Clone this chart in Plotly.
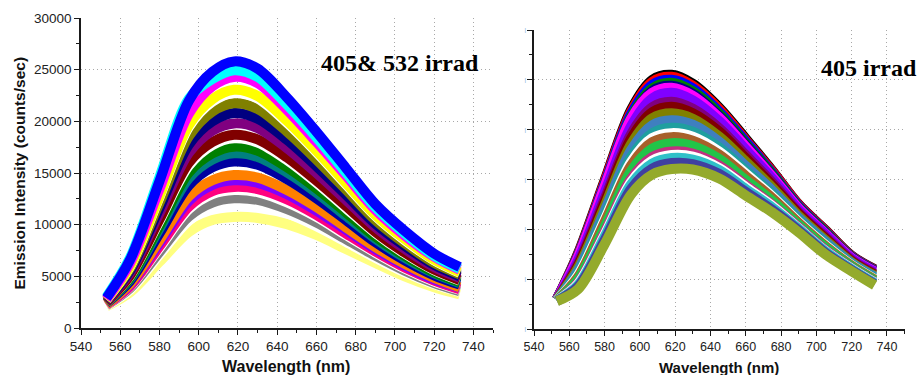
import plotly.graph_objects as go

# ---------------- data ----------------
wavelength = [553, 565, 580, 595, 607, 618, 630, 645, 660, 675, 690, 705, 720, 733]

# Left panel: "405& 532 irrad" (listed top curve -> bottom curve)
left_colors = ["#0000ff", "#00ffff", "#ff00ff", "#ffff00", "#ffffff", "#808000", "#000080",
               "#800080", "#800000", "#ffffff", "#008000", "#008080", "#0000a0", "#ff8000",
               "#8000ff", "#ff0080", "#ffffff", "#808080", "#ffffff", "#ffff80"]
left_series = [
    [2900, 6600, 14200, 22000, 24800, 25800, 25100, 22300, 19000, 15500, 12000, 9400, 7200, 5900],
    [3000, 6800, 14600, 22200, 24100, 24950, 24300, 21600, 18450, 15050, 11700, 9150, 7000, 5750],
    [2800, 6300, 13450, 20750, 23400, 24300, 23700, 21100, 18000, 14750, 11450, 8950, 6900, 5650],
    [2750, 6000, 12750, 19650, 22150, 23050, 22450, 20050, 17150, 14050, 10950, 8600, 6600, 5400],
    [2750, 5950, 12650, 19450, 21900, 22750, 22200, 19850, 17000, 13900, 10850, 8500, 6550, 5350],
    [2700, 5750, 12100, 18550, 20950, 21750, 21200, 19000, 16300, 13400, 10450, 8200, 6300, 5200],
    [2650, 5550, 11600, 17750, 20000, 20800, 20250, 18200, 15650, 12900, 10100, 7950, 6100, 5000],
    [2600, 5350, 11100, 16950, 19100, 19800, 19350, 17400, 15000, 12400, 9750, 7650, 5900, 4850],
    [2500, 5100, 10500, 16000, 18000, 18700, 18250, 16500, 14250, 11800, 9300, 7300, 5650, 4650],
    [2500, 5050, 10350, 15700, 17700, 18350, 17950, 16250, 14050, 11600, 9200, 7200, 5600, 4600],
    [2450, 4850, 9900, 15050, 16900, 17550, 17150, 15550, 13500, 11200, 8850, 7000, 5400, 4450],
    [2450, 4750, 9600, 14500, 16300, 16900, 16550, 15050, 13100, 10850, 8650, 6800, 5300, 4350],
    [2400, 4550, 9150, 13800, 15550, 16100, 15800, 14400, 12550, 10450, 8300, 6550, 5100, 4200],
    [2300, 4300, 8500, 12750, 14300, 14800, 14550, 13350, 11700, 9750, 7850, 6200, 4850, 3950],
    [2300, 4200, 8250, 12300, 13850, 14300, 14050, 12950, 11350, 9500, 7650, 6050, 4700, 3900],
    [2250, 4050, 7900, 11750, 13250, 13650, 13450, 12450, 10950, 9150, 7400, 5850, 4600, 3750],
    [2250, 4000, 7750, 11500, 12950, 13350, 13150, 12150, 10750, 9000, 7300, 5750, 4500, 3700],
    [2200, 3850, 7350, 10800, 12150, 12550, 12400, 11500, 10200, 8600, 7000, 5550, 4350, 3550],
    [2150, 3700, 7100, 10400, 11700, 12050, 11900, 11100, 9850, 8350, 6800, 5400, 4250, 3500],
    [2100, 3450, 6400, 9300, 10450, 10750, 10650, 10050, 9000, 7650, 6300, 5000, 3950, 3250],
]

# Right panel: "405 irrad" (listed top curve -> bottom curve)
right_colors = ["#000000", "#ff0000", "#0000ff", "#008000", "#000080", "#ff00ff", "#8000ff",
                "#800080", "#800000", "#808000", "#3f7fbf", "#1f9f9f", "#ffffff", "#a8602a",
                "#22c448", "#c03080", "#ffffff", "#30c0c8", "#4040a0", "#94aa2c"]
right_series = [
    [3000, 7600, 14900, 22000, 25000, 25500, 24600, 22200, 19100, 15900, 12500, 9950, 7350, 6000],
    [3000, 7500, 14750, 21800, 24800, 25300, 24400, 22050, 18950, 15800, 12450, 9900, 7300, 5950],
    [3000, 7400, 14550, 21550, 24500, 25000, 24150, 21800, 18800, 15650, 12350, 9800, 7250, 5900],
    [2980, 7300, 14350, 21250, 24150, 24700, 23850, 21600, 18600, 15550, 12250, 9750, 7200, 5850],
    [2970, 7150, 14150, 21000, 23900, 24400, 23600, 21350, 18450, 15400, 12150, 9650, 7150, 5800],
    [2980, 7250, 14300, 21100, 23700, 24200, 23400, 21200, 18300, 15300, 12100, 9600, 7130, 5780],
    [2950, 6900, 13650, 20350, 23150, 23700, 22950, 20850, 18000, 15100, 11950, 9500, 7050, 5700],
    [2950, 6550, 13050, 19550, 22250, 22800, 22100, 20150, 17450, 14700, 11700, 9250, 6900, 5550],
    [2930, 6350, 12700, 19100, 21750, 22300, 21650, 19800, 17150, 14450, 11550, 9100, 6800, 5450],
    [2920, 6150, 12300, 18550, 21150, 21650, 21100, 19300, 16800, 14200, 11350, 8950, 6700, 5350],
    [2900, 5900, 11850, 17950, 20450, 20950, 20500, 18800, 16350, 13900, 11150, 8800, 6600, 5250],
    [2890, 5600, 11300, 17250, 19650, 20200, 19800, 18200, 15900, 13550, 10950, 8600, 6500, 5100],
    [2880, 5400, 10950, 16750, 19150, 19650, 19300, 17800, 15600, 13300, 10750, 8450, 6400, 5000],
    [2870, 5200, 10700, 16400, 18750, 19250, 18900, 17500, 15350, 13150, 10650, 8350, 6350, 4950],
    [2850, 5000, 10250, 15850, 18100, 18650, 18350, 17050, 14950, 12850, 10450, 8200, 6250, 4850],
    [2840, 4650, 9700, 15050, 17250, 17800, 17600, 16400, 14450, 12450, 10200, 7950, 6100, 4700],
    [2830, 4550, 9450, 14750, 16900, 17450, 17300, 16150, 14250, 12350, 10100, 7850, 6050, 4650],
    [2820, 4400, 9250, 14500, 16600, 17150, 17000, 15950, 14050, 12200, 10050, 7800, 6000, 4600],
    [2810, 4250, 8900, 14050, 16100, 16650, 16550, 15550, 13750, 11950, 9900, 7650, 5900, 4500],
    [2800, 4000, 8500, 13500, 15500, 16050, 16000, 15100, 13400, 11700, 9700, 7500, 5800, 4400],
]

x_ticks = [540, 560, 580, 600, 620, 640, 660, 680, 700, 720, 740]
y_ticks = [0, 5000, 10000, 15000, 20000, 25000, 30000]
y_tick_labels = ["0", "5000", "10000", "15000", "20000", "25000", "30000"]
left_title = "405& 532 irrad"
right_title = "405 irrad"

# ---------------- figure ----------------
fig = go.Figure()

# left panel: lower curves first, upper curves drawn over them
for vals, col in zip(reversed(left_series), reversed(left_colors)):
    fig.add_trace(go.Scatter(x=wavelength, y=vals, mode="lines",
                             line=dict(color=col, width=10, shape="spline", smoothing=0.9),
                             xaxis="x", yaxis="y", hoverinfo="skip", showlegend=False))

# right panel: upper curves first, lower curves drawn over them
for vals, col in zip(right_series, right_colors):
    fig.add_trace(go.Scatter(x=wavelength, y=vals, mode="lines",
                             line=dict(color=col, width=10, shape="spline", smoothing=0.9),
                             xaxis="x2", yaxis="y2", hoverinfo="skip", showlegend=False))

W, H = 920, 375
SANS = "Liberation Sans, Arial, sans-serif"
grid = dict(showgrid=True, gridcolor="#a8a8a8", griddash="1px,3px", gridwidth=1, zeroline=False)
axis_common = dict(showline=True, linecolor="#1a1a1a", linewidth=1.5, ticks="outside",
                   tickcolor="#1a1a1a", tickwidth=1.3, ticklen=5, automargin=False, **grid)
minor_x = dict(dtick=10, tick0=540, ticks="outside", ticklen=3, tickcolor="#1a1a1a", showgrid=False)
minor_y = dict(dtick=2500, tick0=0, ticks="outside", ticklen=3, tickcolor="#1a1a1a", showgrid=False)

fig.update_layout(
    width=W, height=H,
    margin=dict(l=0, r=0, t=0, b=0, autoexpand=False),
    paper_bgcolor="white", plot_bgcolor="white",
    font=dict(family=SANS, color="#1a1a1a"),
    xaxis=dict(domain=[81 / W, 493 / W], range=[540, 750], tickmode="array", tickvals=x_ticks,
               tickfont=dict(size=13.5, color="#222", family=SANS), anchor="y",
               minor=minor_x, **axis_common),
    yaxis=dict(domain=[(H - 328) / H, (H - 18) / H], range=[0, 30000], tickmode="array",
               tickvals=y_ticks, ticktext=y_tick_labels,
               tickfont=dict(size=13.5, color="#222", family=SANS), anchor="x",
               minor=minor_y, **axis_common),
    xaxis2=dict(domain=[534 / W, 904.6 / W], range=[540, 750], tickmode="array", tickvals=x_ticks,
                tickfont=dict(size=12.5, color="#222", family=SANS), anchor="y2",
                minor=minor_x, **axis_common),
    yaxis2=dict(domain=[(H - 329) / H, (H - 30) / H], range=[0, 30000], tickmode="array",
                tickvals=y_ticks, ticktext=["|"] * len(y_ticks),
                tickfont=dict(size=6, color="#6fa3d8", family=SANS), anchor="x2",
                minor=minor_y, **axis_common),
    annotations=[
        dict(text="<b>Emission Intensity (counts/sec)</b>", xref="paper", yref="paper",
             x=18.5 / W, y=(H - 173) / H, textangle=-90, showarrow=False,
             font=dict(size=15.5, color="#111", family=SANS), xanchor="center", yanchor="middle"),
        dict(text="<b>Wavelength (nm)</b>", xref="paper", yref="paper",
             x=286 / W, y=(H - 366) / H, showarrow=False,
             font=dict(size=16, color="#111", family=SANS), xanchor="center", yanchor="middle"),
        dict(text="<b>Wavelength (nm)</b>", xref="paper", yref="paper",
             x=719 / W, y=(H - 367) / H, showarrow=False,
             font=dict(size=15, color="#111", family=SANS), xanchor="center", yanchor="middle"),
        dict(text="<b>" + left_title + "</b>", xref="paper", yref="paper",
             x=400 / W, y=(H - 63) / H, showarrow=False,
             font=dict(size=24, color="#000", family="Liberation Serif, Times New Roman, serif"),
             xanchor="center", yanchor="middle"),
        dict(text="<b>" + right_title + "</b>", xref="paper", yref="paper",
             x=869 / W, y=(H - 68) / H, showarrow=False,
             font=dict(size=24, color="#000", family="Liberation Serif, Times New Roman, serif"),
             xanchor="center", yanchor="middle"),
    ],
)

fig.write_html("out.html")
